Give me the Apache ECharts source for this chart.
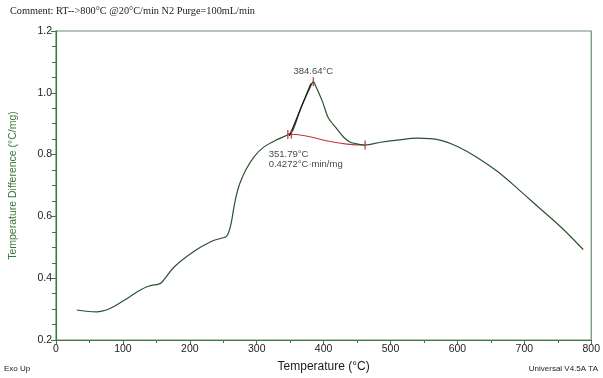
<!DOCTYPE html>
<html>
<head>
<meta charset="utf-8">
<script src="https://cdn.jsdelivr.net/npm/echarts@6/dist/echarts.min.js"></script>
<style>
html,body{margin:0;padding:0;background:#fff;}
#chart{width:603px;height:378px;}
</style>
</head>
<body>
<div id="chart"></div>
<script>
// DTA trace: temperature (°C) vs temperature difference (°C/mg)
const temps = [31, 45, 61, 75, 88, 105, 123, 138, 153, 158, 177, 207, 232, 248, 254, 258, 262, 266, 270, 275, 284, 296, 311, 332, 348, 354, 366, 381, 384.64, 388, 398, 407, 418, 430, 440, 451, 462, 485, 510, 540, 574, 600, 630, 660, 690, 720, 755, 788];
const diffs = [0.297, 0.293, 0.291, 0.297, 0.310, 0.333, 0.358, 0.374, 0.381, 0.386, 0.437, 0.488, 0.519, 0.530, 0.534, 0.548, 0.580, 0.630, 0.672, 0.708, 0.752, 0.793, 0.825, 0.850, 0.866, 0.878, 0.951, 1.023, 1.036, 1.023, 0.973, 0.919, 0.888, 0.856, 0.840, 0.834, 0.831, 0.840, 0.847, 0.853, 0.847, 0.826, 0.790, 0.745, 0.690, 0.632, 0.565, 0.493];

// integration baseline under the exotherm
const baseTemps = [348, 370, 406, 435, 462];
const baseDiffs = [0.866, 0.862, 0.844, 0.834, 0.831];

// onset tangent
const tangentTemps = [349, 381];
const tangentDiffs = [0.860, 1.030];

// analysis cursors
const onsetTemp = 351.79;
const peakTemp = 384.64;
const cursorTemps = [346.5, onsetTemp, peakTemp, 462];
const cursorDiffs = [0.865, 0.866, 1.036, 0.831];
const peakLabel = '384.64°C';
const onsetLabel = '351.79°C\n0.4272°C·min/mg';

const xTicks = [0, 100, 200, 300, 400, 500, 600, 700, 800];
const yTicks = [0.2, 0.4, 0.6, 0.8, 1.0, 1.2];

const zip = (a, b) => a.map((v, i) => [v, b[i]]);

const axisGreen = '#3f7a3f';
const chart = echarts.init(document.getElementById('chart'), null, {renderer: 'canvas'});

const cursorData = cursorTemps.map((t, i) => {
  const d = {value: [t, cursorDiffs[i]]};
  if (t === peakTemp) {
    d.label = {show: true, formatter: peakLabel, position: 'top', distance: 1};
  } else if (t === onsetTemp) {
    d.label = {show: true, formatter: onsetLabel, position: [-22, 19], align: 'left', verticalAlign: 'top', lineHeight: 10.5};
  }
  return d;
});

chart.setOption({
  animation: false,
  backgroundColor: '#ffffff',
  grid: {left: 54, right: 11, top: 31, bottom: 30, show: true, borderColor: '#6e8c6e', borderWidth: 1.2},
  xAxis: {
    type: 'value', min: 0, max: 800, interval: 100,
    name: 'Temperature (°C)', nameLocation: 'middle', nameGap: 21,
    nameTextStyle: {fontFamily: 'Liberation Sans', fontSize: 12, color: '#1a1a1a'},
    axisLine: {show: true, onZero: false, lineStyle: {color: axisGreen, width: 1.2}},
    axisTick: {show: true, length: 4, lineStyle: {color: axisGreen}},
    minorTick: {show: true, splitNumber: 2, length: 3, lineStyle: {color: axisGreen}},
    axisLabel: {fontFamily: 'Liberation Sans', fontSize: 10.5, color: '#222', margin: 4,
      formatter: v => xTicks.includes(v) ? String(v) : ''},
    splitLine: {show: false}
  },
  yAxis: {
    type: 'value', min: 0.2, max: 1.2, interval: 0.2,
    name: 'Temperature Difference (°C/mg)', nameLocation: 'middle', nameGap: 37,
    nameTextStyle: {fontFamily: 'Liberation Sans', fontSize: 10.5, color: '#3a773a'},
    axisLine: {show: true, onZero: false, lineStyle: {color: axisGreen, width: 1.2}},
    axisTick: {show: true, length: 5, lineStyle: {color: axisGreen}},
    minorTick: {show: true, splitNumber: 4, length: 4, lineStyle: {color: axisGreen}},
    axisLabel: {fontFamily: 'Liberation Sans', fontSize: 10.5, color: '#222', margin: 4,
      formatter: v => { const t = yTicks.find(y => Math.abs(y - v) < 1e-6); return t === undefined ? '' : t.toFixed(1); }},
    splitLine: {show: false}
  },
  series: [
    {
      name: 'Temperature Difference', type: 'line', data: zip(temps, diffs),
      smooth: 0.3, showSymbol: false, lineStyle: {color: '#2a5230', width: 1.2}, z: 3
    },
    {
      name: 'Baseline', type: 'line', data: zip(baseTemps, baseDiffs),
      smooth: 0.5, showSymbol: false, lineStyle: {color: '#c0393b', width: 1.1}, z: 2
    },
    {
      name: 'Tangent', type: 'line', data: zip(tangentTemps, tangentDiffs),
      showSymbol: false, lineStyle: {color: '#111', width: 1.1}, z: 4
    },
    {
      name: 'Cursors', type: 'scatter', data: cursorData,
      symbol: 'rect', symbolSize: [1.4, 9], itemStyle: {color: '#b0282b'}, z: 5,
      label: {fontFamily: 'Liberation Sans', fontSize: 9.5, color: '#111'}
    }
  ],
  graphic: [
    {type: 'text', left: 10, top: 6, style: {text: 'Comment: RT-->800°C @20°C/min N2 Purge=100mL/min', fontFamily: 'Liberation Serif', fontSize: 10.3, fill: '#1a1a1a'}},
    {type: 'text', left: 4, top: 365, style: {text: 'Exo Up', fontFamily: 'Liberation Sans', fontSize: 8, fill: '#1a1a1a'}},
    {type: 'text', right: 5, top: 365, style: {text: 'Universal V4.5A TA', fontFamily: 'Liberation Sans', fontSize: 8, fill: '#1a1a1a'}}
  ]
});
</script>
</body>
</html>
